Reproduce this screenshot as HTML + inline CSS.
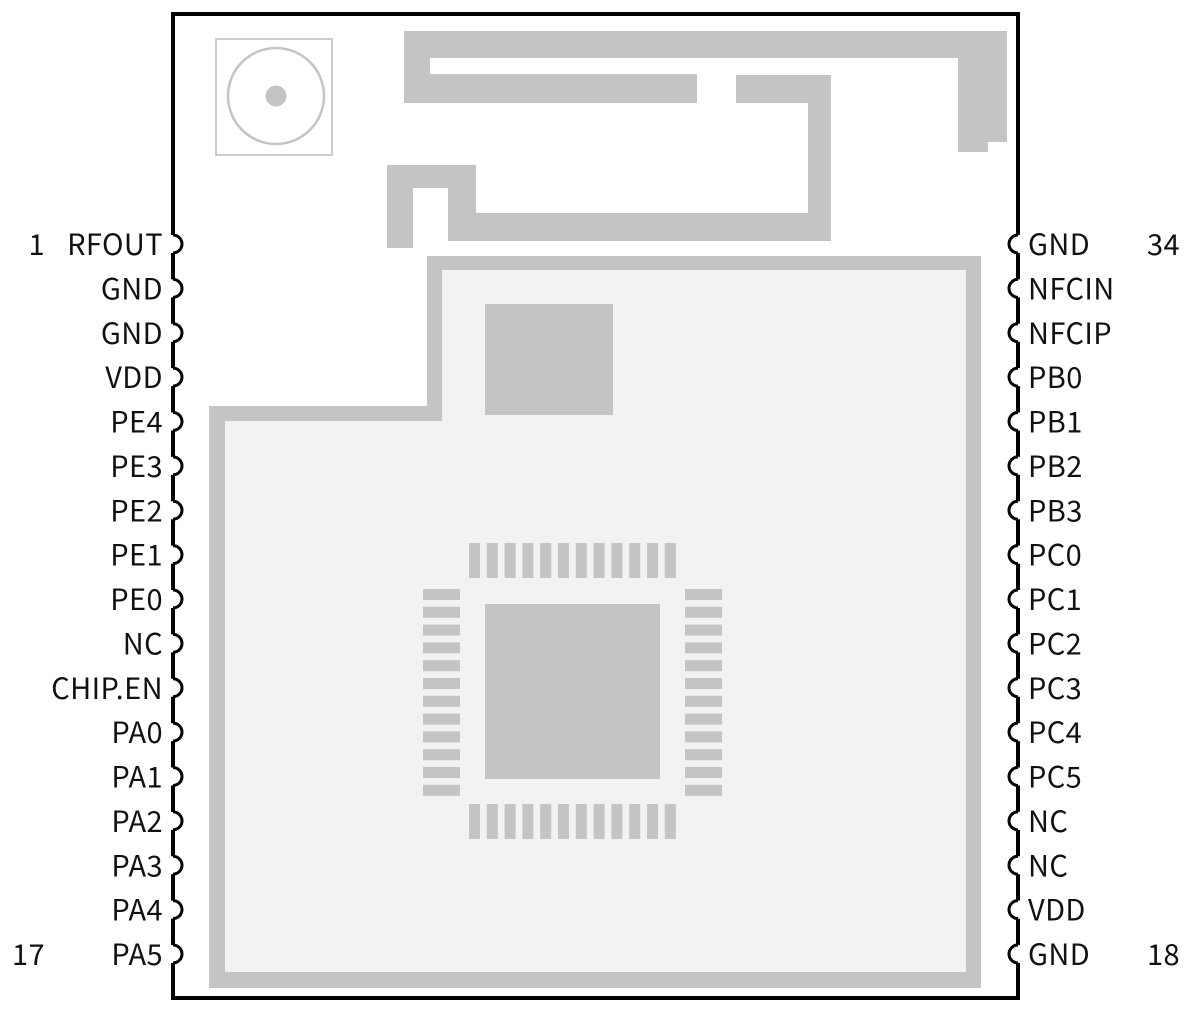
<!DOCTYPE html>
<html><head><meta charset="utf-8"><style>
html,body{margin:0;padding:0;background:#fff;}
svg{display:block;}
text{font-family:"Noto Sans CJK JP","Liberation Sans",sans-serif;font-size:29px;letter-spacing:0.4px;fill:#111;}
</style></head><body>
<svg width="1200" height="1017" viewBox="0 0 1200 1017" xmlns="http://www.w3.org/2000/svg">
<rect x="173" y="14" width="845" height="984" fill="#fff" stroke="#000" stroke-width="4"/>
<rect x="216" y="39" width="116" height="116" fill="none" stroke="#ccc" stroke-width="2"/>
<circle cx="276" cy="96" r="48" fill="none" stroke="#c4c4c4" stroke-width="2.5"/>
<circle cx="276" cy="96" r="10.5" fill="#c4c4c4"/>
<polygon fill="#c4c4c4" points="404,31 1007,31 1007,142 988,142 988,152 958,152 958,58 430,58 430,74 697,74 697,103 404,103"/>
<polygon fill="#c4c4c4" points="387,165 476,165 476,213 808,213 808,103 736,103 736,75 831,75 831,241 448,241 448,188 413,188 413,248 387,248"/>
<polygon fill="#c4c4c4" points="427,256 981,256 981,988 209,988 209,406 427,406"/>
<polygon fill="#f2f2f2" points="442,270 966,270 966,972 225,972 225,421 442,421"/>
<rect x="485" y="304" width="128" height="111" fill="#c4c4c4"/>
<rect x="485" y="604" width="175" height="175" fill="#c4c4c4"/>
<g fill="#c4c4c4" id="pads"></g>
<g id="pins"></g>
<g id="labels"></g>
</svg>
<script>
(function(){
var L=["RFOUT","GND","GND","VDD","PE4","PE3","PE2","PE1","PE0","NC","CHIP.EN","PA0","PA1","PA2","PA3","PA4","PA5"];
var R=["GND","NFCIN","NFCIP","PB0","PB1","PB2","PB3","PC0","PC1","PC2","PC3","PC4","PC5","NC","NC","VDD","GND"];
var ns="http://www.w3.org/2000/svg";
var pins=document.getElementById("pins"),lab=document.getElementById("labels"),pads=document.getElementById("pads");
function el(n,a,t){var e=document.createElementNS(ns,n);for(var k in a)e.setAttribute(k,a[k]);if(t)e.textContent=t;return e;}
for(var j=0;j<12;j++){
 var p=17.8*j;
 pads.appendChild(el("rect",{x:469+p,y:543,width:11,height:35}));
 pads.appendChild(el("rect",{x:469+p,y:804,width:11,height:35}));
 pads.appendChild(el("rect",{x:423,y:589+p,width:37,height:11}));
 pads.appendChild(el("rect",{x:685,y:589+p,width:37,height:11}));
}
for(var i=0;i<17;i++){
 var y=244+44.375*i;
 pins.appendChild(el("rect",{x:170,y:y-9,width:6,height:18,fill:"#fff"}));
 pins.appendChild(el("path",{d:"M173 "+(y-9)+" A9 9 0 0 1 173 "+(y+9),fill:"#fff",stroke:"#000","stroke-width":3}));
 pins.appendChild(el("rect",{x:1015,y:y-9,width:6,height:18,fill:"#fff"}));
 pins.appendChild(el("path",{d:"M1018 "+(y-9)+" A9 9 0 0 0 1018 "+(y+9),fill:"#fff",stroke:"#000","stroke-width":3}));
 lab.appendChild(el("text",{x:163,y:y+11,"text-anchor":"end"},L[i]));
 lab.appendChild(el("text",{x:1028,y:y+11},R[i]));
}
lab.appendChild(el("text",{x:45,y:255,"text-anchor":"end"},"1"));
lab.appendChild(el("text",{x:45,y:965,"text-anchor":"end"},"17"));
lab.appendChild(el("text",{x:1147,y:255},"34"));
lab.appendChild(el("text",{x:1147,y:965},"18"));
})();
</script>
</body></html>
